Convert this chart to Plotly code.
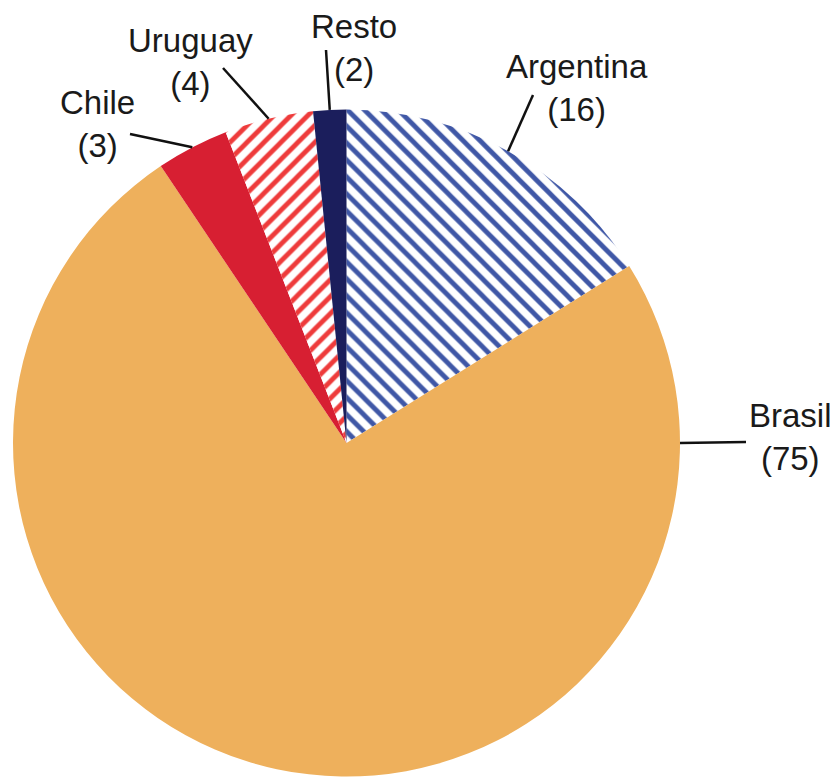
import math
import plotly.graph_objects as go

# Datos (orden horario desde las 12)
paises = ['Argentina', 'Brasil', 'Chile', 'Uruguay', 'Resto']
participacion = [16.1, 74.5, 3.5, 4.3, 1.6]     # tamaño medido de cada porción
etiqueta_valor = [16, 75, 3, 4, 2]                # cifra impresa en el gráfico

colores = ['#ffffff', '#EEB05C', '#D71F32', '#ffffff', '#1B1E5C']
trama_forma = ['\\', '', '', '/', '']
trama_color = ['#3F57A6', '#EEB05C', '#D71F32', '#EE3B3B', '#1B1E5C']

# la página añade 8 px de margen al cuerpo
OFF = 8
W, H = 838 - OFF, 778 - OFF
CX, CY, R = 346.5, 443, 333.5

# Geometría de etiquetas (píxeles de la ventana): centro del texto y extremo de la línea guía
texto_pos = {
    'Argentina': (577, 88),
    'Brasil': (790, 437),
    'Chile': (97, 124),
    'Uruguay': (190, 62),
    'Resto': (354, 48),
}
linea_fin = {
    'Argentina': (533, 95),
    'Brasil': (746, 442),
    'Chile': (130, 134),
    'Uruguay': (223, 68),
    'Resto': (326, 50),
}
angulo_fijo = {'Brasil': 90.0}


def px_to_paper(x, y):
    return (x - OFF) / W, 1 - (y - OFF) / H


d0 = px_to_paper(CX - R, CY + R)
d1 = px_to_paper(CX + R, CY - R)

fig = go.Figure(
    go.Pie(
        labels=paises,
        values=participacion,
        sort=False,
        direction='clockwise',
        rotation=0,
        textinfo='none',
        hoverinfo='label+value',
        marker=dict(
            colors=colores,
            line=dict(width=0),
            pattern=dict(
                shape=trama_forma,
                fgcolor=trama_color,
                bgcolor=colores,
                size=12,
                solidity=0.4,
                fillmode='replace',
            ),
        ),
        domain=dict(x=[d0[0], d1[0]], y=[d0[1], d1[1]]),
        showlegend=False,
    )
)

total = sum(participacion)
acum = 0.0
shapes = []
annotations = []
for pais, v, lbl in zip(paises, participacion, etiqueta_valor):
    medio = (acum + v / 2) / total * 360
    acum += v
    ang = math.radians(angulo_fijo.get(pais, medio))
    x0 = CX + R * math.sin(ang)
    y0 = CY - R * math.cos(ang)
    x1, y1 = linea_fin[pais]
    p0 = px_to_paper(x0, y0)
    p1 = px_to_paper(x1, y1)
    shapes.append(dict(
        type='line', xref='paper', yref='paper',
        x0=p0[0], y0=p0[1], x1=p1[0], y1=p1[1],
        line=dict(color='#111111', width=2.5),
    ))
    tx, ty = px_to_paper(*texto_pos[pais])
    annotations.append(dict(
        x=tx, y=ty, xref='paper', yref='paper',
        text=f'{pais}<br>({lbl})', showarrow=False,
        xanchor='center', yanchor='middle', align='center',
        font=dict(family='Liberation Sans, Arial', size=33, color='#1a1a1a'),
    ))

fig.update_layout(
    width=W, height=H,
    margin=dict(l=0, r=0, t=0, b=0),
    paper_bgcolor='white',
    plot_bgcolor='white',
    shapes=shapes,
    annotations=annotations,
)

fig.write_html('out.html')
